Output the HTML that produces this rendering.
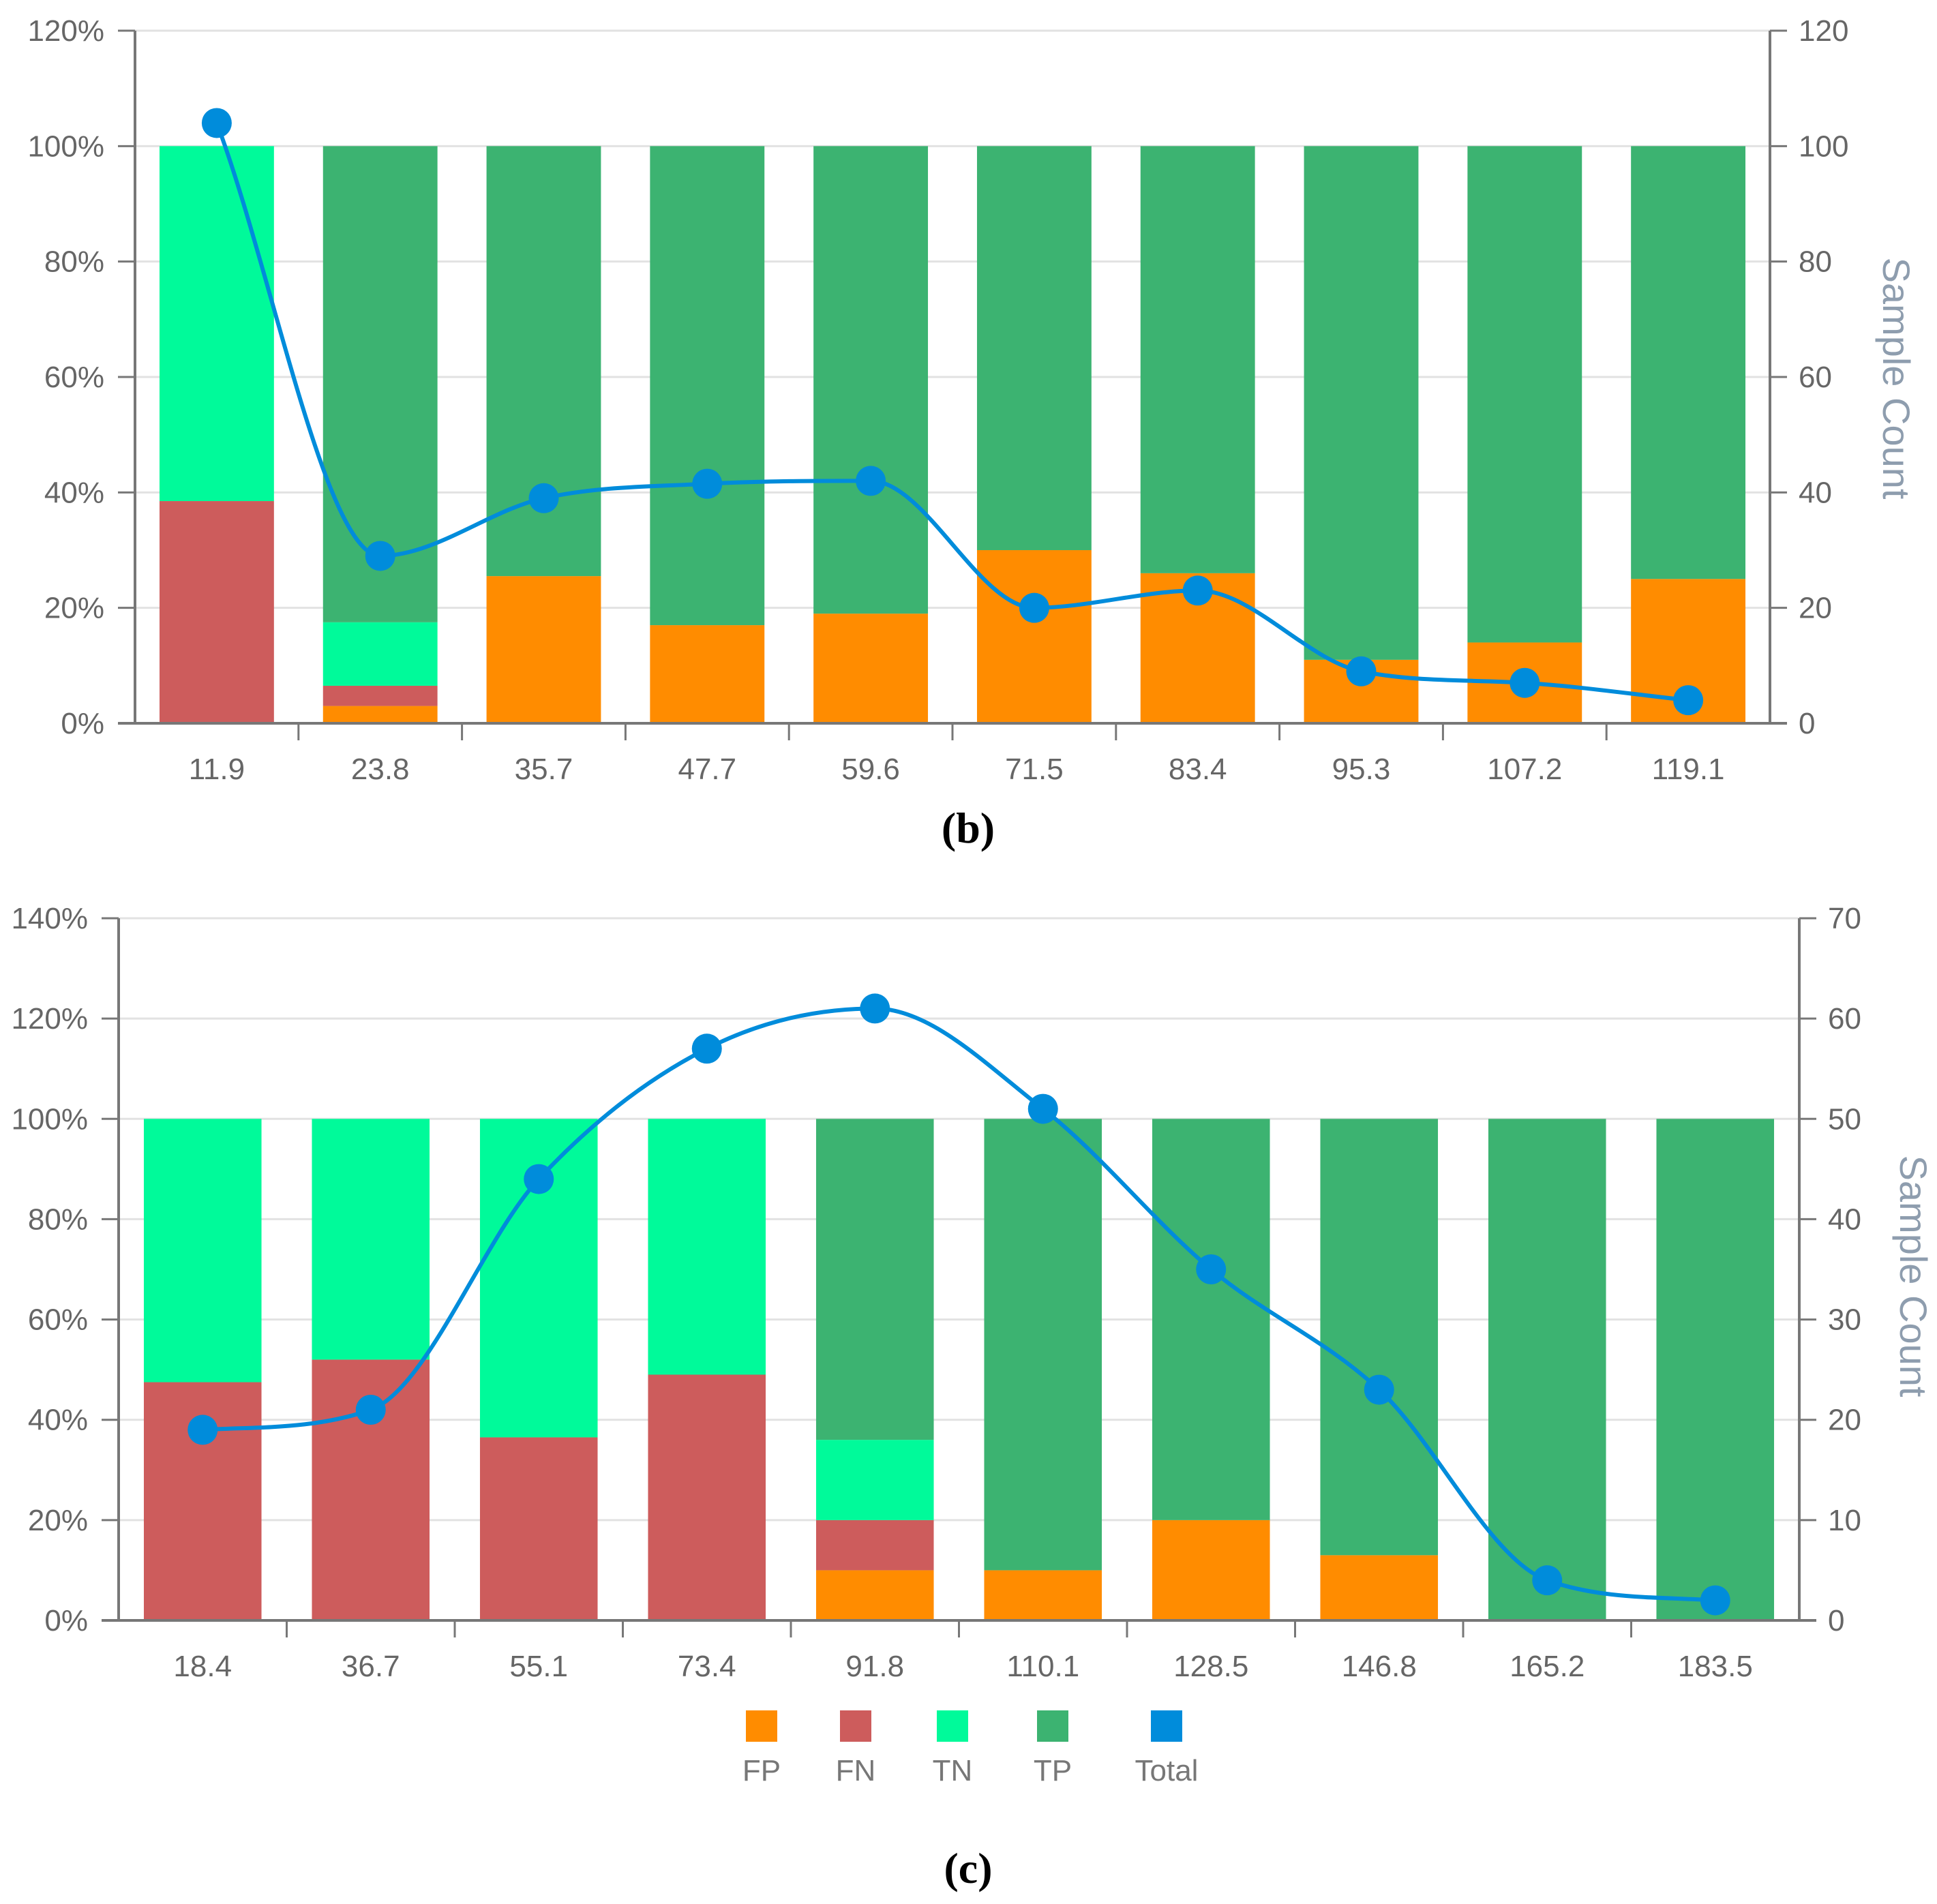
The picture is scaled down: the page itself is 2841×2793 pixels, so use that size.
<!DOCTYPE html>
<html><head><meta charset="utf-8"><style>
html,body{margin:0;padding:0;background:#fff;}
svg{display:block;}
</style></head>
<body>
<svg id="svg" xmlns="http://www.w3.org/2000/svg" width="2841" height="2793" viewBox="0 0 2841 2793"></svg>
<script>
// ---- Chart (b) data ----
const catsB = ['11.9','23.8','35.7','47.7','59.6','71.5','83.4','95.3','107.2','119.1'];
const fpB = [0, 3, 25.5, 17, 19, 30, 26, 11, 14, 25];
const fnB = [38.5, 3.5, 0, 0, 0, 0, 0, 0, 0, 0];
const tnB = [61.5, 11, 0, 0, 0, 0, 0, 0, 0, 0];
const tpB = [0, 82.5, 74.5, 83, 81, 70, 74, 89, 86, 75];
const totalB = [104, 29, 39, 41.5, 42, 20, 23, 9, 7, 4];
const leftTicksB = [0, 20, 40, 60, 80, 100, 120];
const rightTicksB = [0, 20, 40, 60, 80, 100, 120];
// ---- Chart (c) data ----
const catsC = ['18.4','36.7','55.1','73.4','91.8','110.1','128.5','146.8','165.2','183.5'];
const fpC = [0, 0, 0, 0, 10, 10, 20, 13, 0, 0];
const fnC = [47.5, 52, 36.5, 49, 10, 0, 0, 0, 0, 0];
const tnC = [52.5, 48, 63.5, 51, 16, 0, 0, 0, 0, 0];
const tpC = [0, 0, 0, 0, 64, 90, 80, 87, 100, 100];
const totalC = [19, 21, 44, 57, 61, 51, 35, 23, 4, 2];
const leftTicksC = [0, 20, 40, 60, 80, 100, 120, 140];
const rightTicksC = [0, 10, 20, 30, 40, 50, 60, 70];

const svg = document.getElementById('svg');
const NS = 'http://www.w3.org/2000/svg';
function mk(tag, attrs, parent){
  const e = document.createElementNS(NS, tag);
  for (const k in attrs) e.setAttribute(k, attrs[k]);
  (parent||svg).appendChild(e);
  return e;
}
const COLORS = {FP:'#ff8c00', FN:'#cd5c5c', TN:'#00fa9a', TP:'#3cb371', Total:'#008cdb'};
const AX = '#777';
const FONT = '"Liberation Sans", Arial, sans-serif';

function monotonePath(pts){
  const n = pts.length; if (n < 2) return '';
  const dx=[], dy=[], m=[];
  for (let i=0;i<n-1;i++){dx.push(pts[i+1][0]-pts[i][0]); dy.push(pts[i+1][1]-pts[i][1]); m.push(dy[i]/dx[i]);}
  const t=[m[0]];
  for (let i=1;i<n-1;i++){ t.push(m[i-1]*m[i]<=0?0:(m[i-1]+m[i])/2); }
  t.push(m[n-2]);
  for (let i=0;i<n-1;i++){
    if (m[i]===0){t[i]=0;t[i+1]=0;continue;}
    const a=t[i]/m[i], b=t[i+1]/m[i], s=a*a+b*b;
    if (s>9){const k=3/Math.sqrt(s); t[i]=k*a*m[i]; t[i+1]=k*b*m[i];}
  }
  let d='M'+pts[0][0]+','+pts[0][1];
  for (let i=0;i<n-1;i++){
    const h=dx[i]/3;
    d+=' C'+(pts[i][0]+h)+','+(pts[i][1]+t[i]*h)+' '+(pts[i+1][0]-h)+','+(pts[i+1][1]-t[i+1]*h)+' '+pts[i+1][0]+','+pts[i+1][1];
  }
  return d;
}

function chart(cfg){
  const g = mk('g', {});
  
  
  const {x0,x1,yTop,yBot,lmax,rmax} = cfg;
  const yL = v => yBot - (v/lmax)*(yBot-yTop);
  const yR = v => yBot - (v/rmax)*(yBot-yTop);
  const n = cfg.cats.length, cw = (x1-x0)/n;
  const xc = i => x0 + cw*(i+0.5);
  cfg.lticks.forEach(v=>{
    const y=yL(v);
    if (v>0){ const gl = mk('line',{x1:x0,x2:x1,y1:y,y2:y,stroke:'#e2e2e2','stroke-width':3},g);
        }
    mk('line',{x1:x0-25,x2:x0,y1:y,y2:y,stroke:AX,'stroke-width':3},g);
    const t=mk('text',{x:x0-45,y:y+15,'text-anchor':'end','font-size':44,fill:'#666','font-family':FONT},g);
    t.textContent=v+'%';
     
  });
  cfg.rticks.forEach(v=>{
    const y=yR(v);
    mk('line',{x1:x1,x2:x1+25,y1:y,y2:y,stroke:AX,'stroke-width':3},g);
    const t=mk('text',{x:x1+42,y:y+15,'text-anchor':'start','font-size':44,fill:'#666','font-family':FONT},g);
    t.textContent=v;
     
  });
  const bw = cw*0.7;
  const series = [['FP',cfg.fp],['FN',cfg.fn],['TN',cfg.tn],['TP',cfg.tp]];
  for (let i=0;i<n;i++){
    let acc=0;
    series.forEach(([nm,arr])=>{
      const v=arr[i]; if(v<=0) return;
      const r=mk('rect',{x:xc(i)-bw/2,y:yL(acc+v),width:bw,height:yL(acc)-yL(acc+v),fill:COLORS[nm]},g);
      
      
      acc+=v;
    });
  }
  mk('line',{x1:x0,x2:x0,y1:yTop,y2:yBot,stroke:AX,'stroke-width':4},g);
  mk('line',{x1:x1,x2:x1,y1:yTop,y2:yBot,stroke:AX,'stroke-width':4},g);
  mk('line',{x1:x0-25,x2:x1+25,y1:yBot,y2:yBot,stroke:AX,'stroke-width':4},g);
  for (let i=1;i<n;i++){ mk('line',{x1:x0+cw*i,x2:x0+cw*i,y1:yBot,y2:yBot+25,stroke:AX,'stroke-width':3},g); }
  cfg.cats.forEach((c,i)=>{
    const t=mk('text',{x:xc(i),y:yBot+82,'text-anchor':'middle','font-size':44,fill:'#666','font-family':FONT},g);
    t.textContent=c;
     
  });
  const pts = cfg.total.map((v,i)=>[xc(i), yR(v)]);
  const p = mk('path',{d:monotonePath(pts),fill:'none',stroke:COLORS.Total,'stroke-width':6},g);
   
  pts.forEach((q,i)=>{
    const c=mk('circle',{cx:q[0],cy:q[1],r:22,fill:COLORS.Total},g);
     
  });
  const tt=mk('text',{x:0,y:0,'text-anchor':'middle','font-size':56,fill:'#8e9dae','font-family':FONT,
    transform:'translate('+cfg.titleX+','+cfg.titleY+') rotate(90)'},g);
  tt.textContent='Sample Count';
   
  const cap=mk('text',{x:1420,y:cfg.capY,'text-anchor':'middle','font-size':64,'font-weight':'bold',fill:'#000','font-family':'"Liberation Serif", serif'},g);
  cap.textContent=cfg.cap;
   
}

chart({name:'chart-b',cats:catsB,fp:fpB,fn:fnB,tn:tnB,tp:tpB,total:totalB,lticks:leftTicksB,rticks:rightTicksB,
  x0:198,x1:2596,yTop:45,yBot:1061,lmax:120,rmax:120,titleX:2762,titleY:555,capY:1236,cap:'(b)'});
chart({name:'chart-c',cats:catsC,fp:fpC,fn:fnC,tn:tnC,tp:tpC,total:totalC,lticks:leftTicksC,rticks:rightTicksC,
  x0:174,x1:2639,yTop:1347,yBot:2377,lmax:140,rmax:70,titleX:2787,titleY:1872,capY:2762,cap:'(c)'});

const legend = mk('g',{});
 
const legNames = ['FP','FN','TN','TP','Total'];
const legX = [1117, 1255, 1397, 1544, 1711];
legNames.forEach((nm,i)=>{
  const e = mk('g',{},legend);
  
  
  mk('rect',{x:legX[i]-23,y:2509,width:46,height:46,fill:COLORS[nm]},e);
  const t=mk('text',{x:legX[i],y:2612,'text-anchor':'middle','font-size':44,fill:'#777','font-family':FONT},e);
  t.textContent=nm;
});
</script>
</body></html>
